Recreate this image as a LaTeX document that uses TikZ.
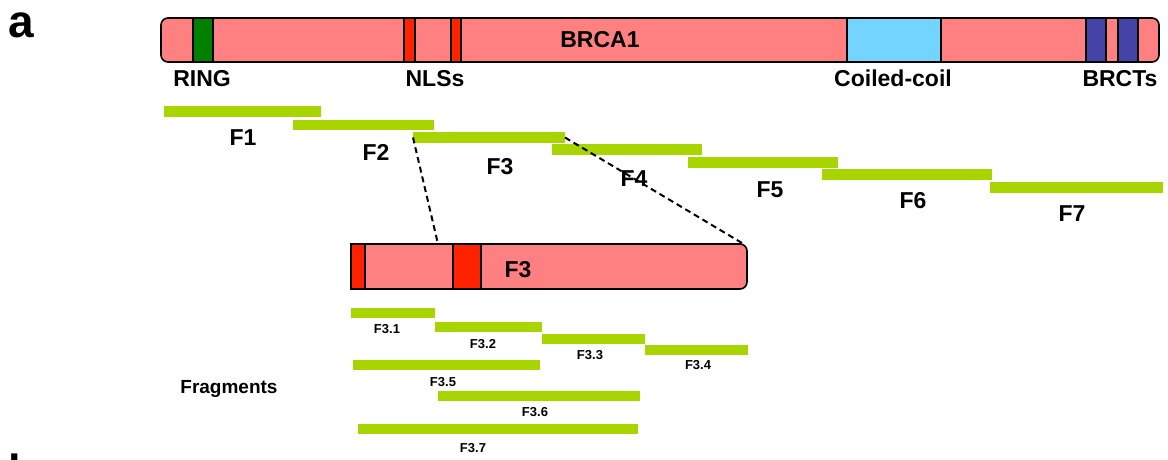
\documentclass[tikz,border=0pt]{standalone}
\usepackage{fontspec}
\setmainfont{Liberation Sans}
\usetikzlibrary{positioning}

\definecolor{brcared}{RGB}{255,128,128}
\definecolor{ringgreen}{RGB}{0,128,0}
\definecolor{nlsred}{RGB}{255,34,0}
\definecolor{coilblue}{RGB}{115,212,255}
\definecolor{brctblue}{RGB}{68,68,168}
\definecolor{fraggreen}{RGB}{168,212,0}

\tikzset{
    box/.style={draw=black, line width=1.6pt, inner sep=0pt, outer sep=0pt},
    fragbar/.style={fill=fraggreen, inner sep=0pt, outer sep=0pt},
    biglabel/.style={font=\fontsize{23}{27}\selectfont\bfseries, anchor=base, inner sep=0pt},
    smalllabel/.style={font=\fontsize{13}{15}\selectfont\bfseries, anchor=base, inner sep=0pt},
    zoomline/.style={line width=2pt, dash pattern=on 6pt off 4pt}
}

\begin{document}
\begin{tikzpicture}[x=1pt, y=-1pt]
    \useasboundingbox (0,0) rectangle (1168,459);

    % Panel letters
    \node[font=\fontsize{46}{50}\selectfont\bfseries, anchor=base, inner sep=0pt] (panela) at (21,37) {a};
    \begin{scope}
        \clip (0,0) rectangle (1168,459);
        \node[font=\fontsize{45}{50}\selectfont\bfseries, anchor=base west, inner sep=0pt] (panelb) at (8,486) {b};
    \end{scope}

    % BRCA1 protein with domains
    \node[box, fill=brcared, rounded corners=7pt, minimum width=998pt, minimum height=44pt] (brca) at (660,40) {};
    \foreach \name/\xa/\xb/\col in {ring/193/213/ringgreen, nlsA/404/415/nlsred, nlsB/451/461/nlsred,
        coil/847/941/coilblue, brctA/1086/1106/brctblue, brctB/1118/1138/brctblue}
        \node[box, fill=\col, minimum width={(\xb-\xa)*1pt}, minimum height=44pt] (\name) at ({(\xa+\xb)/2},40) {};

    \node[biglabel] (brcaname) at (600,47) {BRCA1};
    \node[biglabel] (ringname) at (202,86) {RING};
    \node[biglabel] (nlsname) at (435,86) {NLSs};
    \node[biglabel] (coilname) at (893,86) {Coiled-coil};
    \node[biglabel] (brctname) at (1120,86) {BRCTs};

    % Fragments F1--F7
    \foreach \name/\txt/\xa/\xb/\ya/\yb/\lx/\ly in {
        f1/F1/164/321/106/117/243/145, f2/F2/293/434/120/130/376/160,
        f3/F3/413/565/132/143/500/174, f4/F4/552/702/144/155/634/186,
        f5/F5/688/838/157/168/770/197, f6/F6/822/992/169/180/913/208,
        f7/F7/990/1163/182/193/1072/221}
    {
        \node[fragbar, minimum width={(\xb-\xa)*1pt}, minimum height={(\yb-\ya)*1pt}] (\name) at ({(\xa+\xb)/2},{(\ya+\yb)/2}) {};
        \node[biglabel] (\name name) at (\lx,\ly) {\txt};
    }

    % Zoom on F3
    \node[box, fill=brcared, rounded corners=7pt, minimum width=396pt, minimum height=45pt] (detail) at (549,266.5) {};
    \node[box, fill=nlsred, minimum width=14pt, minimum height=45pt] (detailA) at (358,266.5) {};
    \node[box, fill=nlsred, minimum width=28pt, minimum height=45pt] (detailB) at (467,266.5) {};
    \node[biglabel] (detailname) at (518,277) {F3};

    \coordinate (zoomL) at (438,244);
    \coordinate (zoomR) at (742,243);
    \draw[zoomline] (f3.west) -- (zoomL);
    \draw[zoomline] (f3.east) -- (zoomR);

    % Sub-fragments F3.1--F3.7
    \foreach \name/\txt/\xa/\xb/\ya/\yb/\lx/\ly in {
        sa/F3.1/351/435/308/318/387/333, sb/F3.2/435/542/322/332/483/348,
        sc/F3.3/542/645/334/344/590/359, sd/F3.4/645/748/345/355/698/369,
        se/F3.5/353/540/360/370/443/386, sf/F3.6/438/640/391/401/535/416,
        sg/F3.7/358/638/424/434/473/452}
    {
        \node[fragbar, minimum width={(\xb-\xa)*1pt}, minimum height={(\yb-\ya)*1pt}] (\name) at ({(\xa+\xb)/2},{(\ya+\yb)/2}) {};
        \node[smalllabel] (\name name) at (\lx,\ly) {\txt};
    }

    \node[font=\fontsize{19}{22}\selectfont\bfseries, anchor=base, inner sep=0pt] (fragname) at (229,393) {Fragments};
\end{tikzpicture}
\end{document}
